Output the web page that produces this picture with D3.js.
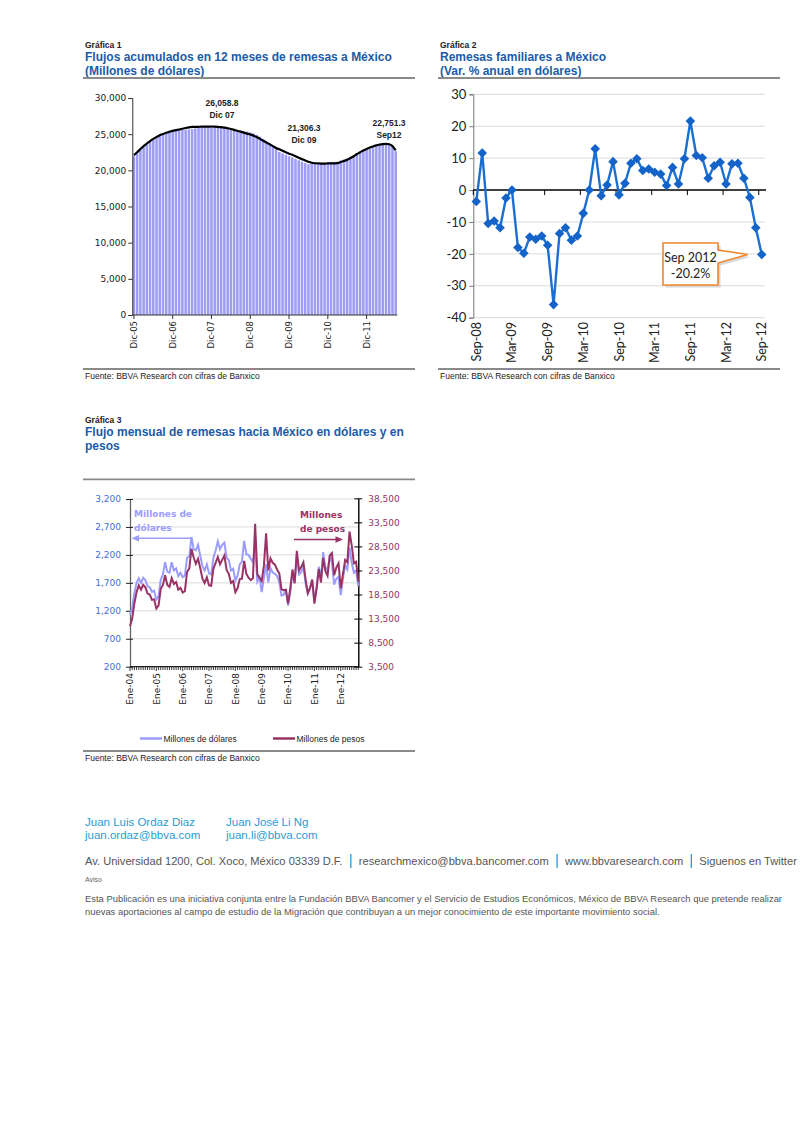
<!DOCTYPE html>
<html><head><meta charset="utf-8">
<script src="https://cdnjs.cloudflare.com/ajax/libs/d3/7.8.5/d3.min.js"></script>
<style>body{margin:0;background:#fff}svg{display:block}</style>
</head><body>
<svg id="page" width="800" height="1131"></svg>
<script>
// ---------- DATA ----------
// Gráfica 1: Dic-05 .. Sep-12 (82 months)
const c1Line = [22100,
 22500,22950,23350,23700,24050,24350,24600,24850,25030,25200,25330,25450,
 25550,25650,25750,25850,25950,26000,26000,26020,26035,26045,26052,26059,
 26050,26020,25970,25900,25820,25720,25600,25470,25340,25210,25080,24950,
 24800,24600,24350,24100,23850,23600,23350,23100,22900,22700,22500,22300,
 22150,21950,21750,21550,21350,21180,21050,20980,20950,20940,20940,20950,
 20960,20970,21000,21150,21300,21450,21700,21950,22250,22500,22750,22950,
 23150,23300,23450,23550,23620,23650,23600,23350,22751];
const c1Bars = [21950,
 22350,22800,23200,23550,23900,24200,24450,24700,24900,25300,25450,25500,
 25550,25580,25600,25620,25650,25700,25800,25950,26000,26030,26045,26059,
 26040,26010,25960,25880,25800,25700,25580,25450,25550,25450,25350,25250,
 25100,24900,24650,24350,23850,23600,23350,23100,22550,22350,22150,21950,
 21800,21600,21400,21200,21000,20850,20950,20950,20950,20950,20950,21150,
 21160,21170,21200,21350,21500,21650,21850,22050,22250,22500,22750,22850,
 23050,23180,23330,23430,23500,23530,23480,23250,22650];
const c1TickLabels = ["Dic-05","Dic-06","Dic-07","Dic-08","Dic-09","Dic-10","Dic-11"];
const c1YTicks = [0,5000,10000,15000,20000,25000,30000];
const c1Notes = [
  {i:24, a:"26,058.8", b:"Dic 07"},
  {i:48, a:"21,306.3", b:"Dic 09"},
  {i:81, a:"22,751.3", b:"Sep12"}];

// Gráfica 2: Sep-08 .. Sep-12 (49 months), var % anual
const c2Values = [-3.6,11.6,-10.5,-9.7,-11.8,-2.5,0.0,-18.0,-19.8,-14.7,-15.4,-14.4,
 -17.3,-35.9,-13.6,-11.8,-15.7,-14.4,-7.3,0.0,12.9,-1.8,1.6,8.9,
 -1.5,2.1,8.4,9.8,6.1,6.6,5.6,5.0,1.4,7.1,1.9,9.8,
 21.6,10.8,10.1,3.7,7.6,8.7,1.9,8.2,8.4,3.7,-2.3,-11.8,-20.2];
const c2TickLabels = ["Sep-08","Mar-09","Sep-09","Mar-10","Sep-10","Mar-11","Sep-11","Mar-12","Sep-12"];
const c2YTicks = [-40,-30,-20,-10,0,10,20,30];

// Gráfica 3: Ene-04 .. Sep-12 (105 months)
const c3Usd = [
 1130,1250,1520,1700,1780,1700,1790,1750,1640,1620,1540,1560,
 1400,1460,1760,1850,2070,1900,1880,2070,1920,1960,1820,1880,
 1800,1830,2150,2170,2520,2300,2280,2380,2180,2000,1920,2030,
 1870,1850,2150,2280,2440,2300,2380,2420,2150,2110,1920,1950,
 1740,1830,2030,2080,2450,2210,2200,2130,2070,2355,1720,1800,
 1535,1784,2030,1706,1965,1885,1861,1823,1714,1474,1486,1588,
 1294,1527,1882,1706,2180,1851,1891,1985,1688,1505,1611,1744,
 1373,1628,1987,1791,2249,1982,1927,2179,2053,1668,1774,1809,
 1480,1770,2020,1940,2330,2060,1880,1920,1640];
const c3Mxn = [
 11900,13500,16700,19000,20400,19500,20500,20000,18700,18500,17400,17500,
 15600,16200,19700,20500,22500,20500,20100,21900,20700,21100,19500,19900,
 18900,19200,23200,23900,28000,26200,24900,25900,24000,21800,20900,22100,
 20400,20300,23900,25100,26300,24800,25700,26600,23600,22800,20900,21300,
 19000,19800,21700,21800,25500,22800,22000,21500,21900,33200,22700,22000,
 21300,24500,31200,23500,26000,25100,24700,23700,22900,19600,19400,19500,
 16600,19700,23700,20800,27600,23500,24200,25200,21600,18800,19800,21600,
 16600,19700,23800,21000,26100,23400,22400,26600,27100,22500,24100,25000,
 19800,22700,25700,25200,31600,28700,25000,25300,21200];
const c3TickLabels = ["Ene-04","Ene-05","Ene-06","Ene-07","Ene-08","Ene-09","Ene-10","Ene-11","Ene-12"];
const c3LeftTicks = [200,700,1200,1700,2200,2700,3200];
const c3RightTicks = [3500,8500,13500,18500,23500,28500,33500,38500];
const c3Series = ["Millones de dólares","Millones de pesos"];

// ---------- STYLE ----------
const BLUE_T = "#1a5ca8", RULE = "#8a8a8a";
const HEAD = "'Liberation Sans', Arial, sans-serif";
const DV = "'DejaVu Sans', Verdana, sans-serif";
const CAL = "Lato, 'Open Sans', sans-serif";
const fmtHyphen = d3.formatLocale({decimal:".", thousands:",", grouping:[3], currency:["$",""], minus:"-"});
const svg = d3.select("#page");
svg.append("rect").attr("width",800).attr("height",1131).attr("fill","#fff");

function header(x, y, num, lines, x2, ruleY) {
  svg.append("text").attr("x",x).attr("y",y).attr("font-family",HEAD).attr("font-weight","bold")
    .attr("font-size",8.5).attr("fill","#222").text("Gráfica " + num);
  lines.forEach((t,k)=>svg.append("text").attr("x",x).attr("y",y+13+14*k).attr("font-family",HEAD)
    .attr("font-weight","bold").attr("font-size",12).attr("fill",BLUE_T).text(t));
  svg.append("line").attr("x1",x-2).attr("x2",x2).attr("y1",ruleY).attr("y2",ruleY)
    .attr("stroke",RULE).attr("stroke-width",1.8);
}
function source(x, x2, ruleY) {
  svg.append("line").attr("x1",x-2).attr("x2",x2).attr("y1",ruleY).attr("y2",ruleY)
    .attr("stroke",RULE).attr("stroke-width",1.8);
  svg.append("text").attr("x",x).attr("y",ruleY+10).attr("font-family",HEAD).attr("font-size",8.5)
    .attr("fill","#222").text("Fuente: BBVA Research con cifras de Banxico");
}

// ---------- GRÁFICA 1 ----------
header(85, 48, 1, ["Flujos acumulados en 12 meses de remesas a México","(Millones de dólares)"], 415, 78);
source(85, 415, 369);
{
  const g = svg.append("g");
  const idx = d3.range(c1Line.length);
  const x = d3.scaleBand().domain(idx).range([132.3, 397.3]).padding(0);
  const y = d3.scaleLinear().domain([0,30000]).range([315,98]);
  const cx = i => x(i) + x.bandwidth()/2;
  g.selectAll("rect.bar").data(c1Bars).join("rect").attr("class","bar")
    .attr("x",(d,i)=>x(i)+0.35).attr("width",x.bandwidth()-0.7)
    .attr("y",d=>y(d)).attr("height",d=>y(0)-y(d)).attr("fill","#9d9df3");
  g.append("path").datum(c1Line).attr("fill","none").attr("stroke","#000").attr("stroke-width",2.2)
    .attr("d", d3.line().x((d,i)=>cx(i)).y(d=>y(d)).curve(d3.curveMonotoneX));
  const ya = g.append("g").attr("transform","translate(132.3,0)")
    .call(d3.axisLeft(y).tickValues(c1YTicks).tickFormat(d3.format(",")).tickSize(4).tickPadding(2));
  ya.select(".domain").attr("stroke","#333");
  ya.selectAll(".tick line").attr("stroke","#333");
  ya.selectAll("text").attr("font-family",DV).attr("font-size",9).attr("fill","#222");
  g.append("line").attr("x1",132.3).attr("x2",397.3).attr("y1",315).attr("y2",315).attr("stroke","#333");
  c1TickLabels.forEach((t,k)=>{
    const xx = cx(k*12);
    g.append("line").attr("x1",xx).attr("x2",xx).attr("y1",315).attr("y2",319).attr("stroke","#333");
    g.append("text").attr("transform",`translate(${xx+3},321) rotate(-90)`).attr("text-anchor","end")
      .attr("font-family",DV).attr("font-size",8.5).attr("fill","#222").text(t);
  });
  const nx = {24:222, 48:304, 81:389}, ny = {24:106, 48:131, 81:125.5};
  c1Notes.forEach(n=>{
    [n.a,n.b].forEach((t,k)=>g.append("text").attr("x",nx[n.i]).attr("y",ny[n.i]+12*k)
      .attr("text-anchor","middle").attr("font-family",HEAD).attr("font-weight","bold")
      .attr("font-size",8.5).attr("fill","#222").text(t));
  });
}

// ---------- GRÁFICA 2 ----------
header(440, 48, 2, ["Remesas familiares a México","(Var. % anual en dólares)"], 780, 78);
source(440, 780, 369);
{
  const g = svg.append("g");
  const idx = d3.range(c2Values.length);
  const x = d3.scaleBand().domain(idx).range([473.3, 764.7]).padding(0);
  const y = d3.scaleLinear().domain([-40,30]).range([317.7,94.3]);
  const cx = i => x(i) + x.bandwidth()/2;
  g.selectAll("line.grid").data(c2YTicks.filter(v=>v!==0)).join("line").attr("class","grid")
    .attr("x1",473.3).attr("x2",764.7).attr("y1",d=>y(d)).attr("y2",d=>y(d))
    .attr("stroke","#dadada").attr("stroke-width",1);
  const ya = g.append("g").attr("transform","translate(473.3,0)")
    .call(d3.axisLeft(y).tickValues(c2YTicks).tickFormat(fmtHyphen.format("d")).tickSize(4).tickPadding(3));
  ya.select(".domain").attr("stroke","#777");
  ya.selectAll(".tick line").attr("stroke","#777");
  ya.selectAll("text").attr("font-family",CAL).attr("font-size",13).attr("fill","#222");
  g.append("line").attr("x1",473.3).attr("x2",766).attr("y1",y(0)).attr("y2",y(0))
    .attr("stroke","#000").attr("stroke-width",1.4);
  d3.range(0, c2Values.length+1, 6).forEach(k=>{
    const xx = 473.3 + k*x.step();
    g.append("line").attr("x1",xx).attr("x2",xx).attr("y1",y(0)).attr("y2",y(0)+5).attr("stroke","#000");
  });
  c2TickLabels.forEach((t,k)=>{
    g.append("text").attr("transform",`translate(${cx(k*6)+4.5},322) rotate(-90)`).attr("text-anchor","end")
      .attr("font-family",CAL).attr("font-size",12.5).attr("fill","#222").text(t);
  });
  g.append("path").datum(c2Values).attr("fill","none").attr("stroke","#1a6fd2").attr("stroke-width",2.4)
    .attr("stroke-linejoin","round")
    .attr("d", d3.line().x((d,i)=>cx(i)).y(d=>y(d)));
  g.selectAll("path.mk").data(c2Values).join("path").attr("class","mk")
    .attr("d", d3.symbol(d3.symbolSquare, 46))
    .attr("transform",(d,i)=>`translate(${cx(i)},${y(d)}) rotate(45)`)
    .attr("fill","#1463c8");
  // callout
  const last = c2Values.length-1;
  const tipX = cx(last)-14, tipY = y(c2Values[last]);
  const bx0=663, bx1=718, by0=243, by1=285;
  const pts = [[bx0,by0],[bx1,by0],[bx1,by0+7],[tipX,tipY],[bx1,by0+20],[bx1,by1],[bx0,by1]];
  g.append("path").attr("d", d3.line()(pts)+"Z").attr("transform","translate(2.5,2.5)")
    .attr("fill","#c8c8c8").attr("opacity",0.7);
  g.append("path").attr("d", d3.line()(pts)+"Z").attr("fill","#fff").attr("stroke","#f0862e").attr("stroke-width",1.6);
  g.append("text").attr("x",(bx0+bx1)/2).attr("y",261.5).attr("text-anchor","middle").attr("font-family",CAL)
    .attr("font-size",12.5).attr("fill","#222").text("Sep 2012");
  g.append("text").attr("x",(bx0+bx1)/2).attr("y",277.5).attr("text-anchor","middle").attr("font-family",CAL)
    .attr("font-size",12.5).attr("fill","#222").text(fmtHyphen.format(".1f")(c2Values[last]) + "%");
}

// ---------- GRÁFICA 3 ----------
header(85, 423, 3, ["Flujo mensual de remesas hacia México en dólares y en","pesos"], 415, 479.3);
source(85, 415, 751);
{
  const g = svg.append("g");
  const idx = d3.range(c3Usd.length);
  const x = d3.scalePoint().domain(idx).range([130, 358.3]);
  const yL = d3.scaleLinear().domain([200,3200]).range([666.7,499]);
  const yR = d3.scaleLinear().domain([3500,38500]).range([666.7,498.3]);
  g.selectAll("line.grid").data(c3LeftTicks.slice(1)).join("line").attr("class","grid")
    .attr("x1",130).attr("x2",358.3).attr("y1",d=>yL(d)).attr("y2",d=>yL(d))
    .attr("stroke","#dadada");
  const la = g.append("g").attr("transform","translate(130,0)")
    .call(d3.axisLeft(yL).tickValues(c3LeftTicks).tickFormat(d3.format(",")).tickSizeInner(4).tickSizeOuter(0).tickPadding(5));
  la.select(".domain").attr("stroke","#666").attr("stroke-width",1.3);
  la.selectAll(".tick line").attr("stroke","#222").attr("x2",-4).attr("x1",3);
  la.selectAll("text").attr("font-family",DV).attr("font-size",9).attr("fill","#3d6fe0");
  const ra = g.append("g").attr("transform","translate(358.3,0)")
    .call(d3.axisRight(yR).tickValues(c3RightTicks).tickFormat(d3.format(",")).tickSizeInner(4).tickSizeOuter(0).tickPadding(6));
  ra.select(".domain").attr("stroke","#000").attr("stroke-width",1.4);
  ra.selectAll(".tick line").attr("stroke","#000").attr("x1",-4).attr("x2",4);
  ra.selectAll("text").attr("font-family",DV).attr("font-size",9).attr("fill","#993366");
  g.append("line").attr("x1",130).attr("x2",358.3).attr("y1",666.7).attr("y2",666.7).attr("stroke","#222").attr("stroke-width",1.2);
  g.selectAll("line.mt").data(idx).join("line").attr("class","mt")
    .attr("x1",d=>x(d)).attr("x2",d=>x(d)).attr("y1",666.7).attr("y2",d=>d%12===0?671:670)
    .attr("stroke","#222").attr("stroke-width",0.9);
  c3TickLabels.forEach((t,k)=>{
    g.append("text").attr("transform",`translate(${x(k*12)+3.2},673) rotate(-90)`).attr("text-anchor","end")
      .attr("font-family",DV).attr("font-size",9).attr("fill","#222").text(t);
  });
  g.append("path").datum(c3Usd).attr("fill","none").attr("stroke","#9c9cff").attr("stroke-width",2)
    .attr("d", d3.line().x((d,i)=>x(i)).y(d=>yL(d)));
  g.append("path").datum(c3Mxn).attr("fill","none").attr("stroke","#993366").attr("stroke-width",2)
    .attr("d", d3.line().x((d,i)=>x(i)).y(d=>yR(d)));
  // annotations
  const ann = (xx,yy,t,c)=>g.append("text").attr("x",xx).attr("y",yy).attr("font-family",DV)
    .attr("font-weight","bold").attr("font-size",9).attr("fill",c).text(t);
  ann(134,516.5,"Millones de","#9c9cff"); ann(134,530.5,"dólares","#9c9cff");
  ann(300,517.5,"Millones","#993366"); ann(300,532,"de pesos","#993366");
  g.append("line").attr("x1",137).attr("x2",192).attr("y1",538.3).attr("y2",538.3).attr("stroke","#9c9cff").attr("stroke-width",1.5);
  g.append("path").attr("d",d3.line()([[131.5,538.3],[139,535],[139,541.6]])+"Z").attr("fill","#9c9cff");
  g.append("line").attr("x1",294).attr("x2",337).attr("y1",539.5).attr("y2",539.5).attr("stroke","#993366").attr("stroke-width",1.5);
  g.append("path").attr("d",d3.line()([[343,539.5],[335.5,536.2],[335.5,542.8]])+"Z").attr("fill","#993366");
  // legend
  const lg = [[140,162,"#9c9cff"],[273,295,"#993366"]];
  lg.forEach((l,k)=>{
    g.append("line").attr("x1",l[0]).attr("x2",l[1]).attr("y1",738.5).attr("y2",738.5).attr("stroke",l[2]).attr("stroke-width",2.5);
    g.append("text").attr("x",l[1]+1.5).attr("y",741.5).attr("font-family",HEAD).attr("font-size",8.5)
      .attr("fill","#222").text(c3Series[k]);
  });
}

// ---------- FOOTER ----------
{
  const CY = "#2a9bd6";
  const nm = [[85,"Juan Luis Ordaz Diaz","juan.ordaz@bbva.com"],[226,"Juan José Li Ng","juan.li@bbva.com"]];
  nm.forEach(n=>{
    svg.append("text").attr("x",n[0]).attr("y",826).attr("font-family",HEAD).attr("font-size",11.5).attr("fill",CY).text(n[1]);
    svg.append("text").attr("x",n[0]).attr("y",838.5).attr("font-family",HEAD).attr("font-size",11.5).attr("fill",CY).text(n[2]);
  });
  // address line: parts separated by cyan bars, fitted into 85..797
  const parts = ["Av. Universidad 1200, Col. Xoco, México 03339 D.F.","researchmexico@bbva.bancomer.com","www.bbvaresearch.com","Siguenos en Twitter"];
  const gap = 16;
  const tmp = parts.map(p=>svg.append("text").attr("font-family",HEAD).attr("font-size",11.5).text(p));
  const ws = tmp.map(t=>t.node().getComputedTextLength());
  tmp.forEach(t=>t.remove());
  const total = d3.sum(ws) + gap*(parts.length-1);
  const sc = Math.min(1, (712 - gap*(parts.length-1)) / d3.sum(ws));
  let xx = 85;
  parts.forEach((p,k)=>{
    svg.append("text").attr("x",xx).attr("y",865).attr("font-family",HEAD).attr("font-size",11.5*sc).attr("fill","#555").text(p);
    xx += ws[k]*sc;
    if (k < parts.length-1) {
      svg.append("line").attr("x1",xx+gap/2).attr("x2",xx+gap/2).attr("y1",854).attr("y2",868)
        .attr("stroke",CY).attr("stroke-width",1.3);
      xx += gap;
    }
  });
  svg.append("text").attr("x",85).attr("y",882).attr("font-family",HEAD).attr("font-size",7).attr("fill","#666").text("Aviso");
  const p1 = svg.append("text").attr("x",85).attr("y",901.5).attr("font-family",HEAD).attr("font-size",9.5).attr("fill","#555")
    .text("Esta Publicación es una iniciativa conjunta entre la Fundación BBVA Bancomer y el Servicio de Estudios Económicos, México de BBVA Research que pretende realizar");
  const p2 = svg.append("text").attr("x",85).attr("y",914.5).attr("font-family",HEAD).attr("font-size",9.5).attr("fill","#555")
    .text("nuevas aportaciones al campo de estudio de la Migración que contribuyan a un mejor conocimiento de este importante movimiento social.");
  const w1 = p1.node().getComputedTextLength(), w2 = p2.node().getComputedTextLength();
  const k = 697 / w1;
  p1.attr("textLength",697).attr("lengthAdjust","spacingAndGlyphs");
  p2.attr("textLength",w2*k).attr("lengthAdjust","spacingAndGlyphs");
}
</script>
</body></html>
